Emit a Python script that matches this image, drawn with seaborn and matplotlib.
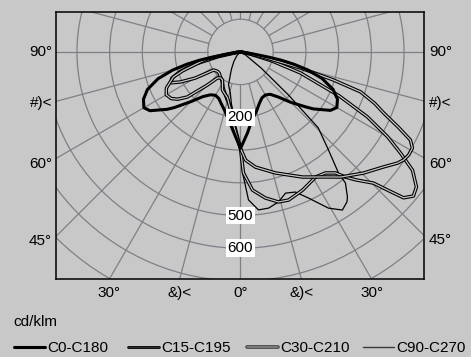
import numpy as np
import pandas as pd
import matplotlib
matplotlib.use("Agg")
import matplotlib.pyplot as plt
import seaborn as sns
from matplotlib.patches import Circle
from matplotlib.lines import Line2D
from matplotlib.legend_handler import HandlerTuple

# photometric data: gamma angle in degrees (0 = nadir,
# negative = left half plane) and luminous intensity in cd/klm
c0_gamma = [-180, -90, -83, -81, -79.5, -78.5, -77, -75, -72, -68, -64, -60, -57, -55, -52, -50,
            -45, -40, -35, -30, -25, -20, -15, -10, -5, 0,
            5, 10, 15, 20, 25, 30, 35, 40, 45, 50, 52, 55, 57, 60, 64, 68, 72, 75, 77,
            78.5, 79.5, 81, 83, 90, 180]
c0_int = [0, 0, 10, 40, 90, 130, 170, 215, 265, 307, 330, 341, 330, 310, 285, 265,
          215, 178, 160, 153, 157, 170, 186, 210, 245, 295,
          248, 208, 188, 168, 155, 152, 158, 180, 218, 262, 283, 308, 328, 340, 330, 305, 262, 213, 168,
          128, 88, 38, 10, 0, 0]

c15_gamma = [-90, -84, -80, -78, -76, -72, -69.5, -64, -60, -56, -53, -49.7, -45, -41.5, -37, -32.7,
             -25.3, -15.8, -10, -5, 0, 2.7, 7.4, 16.1, 26.4, 34.2, 38.7, 45.5, 51.2, 54.7, 56.5,
             58.5, 60.8, 62.6, 64.5, 66.9, 69, 71.6, 73.2, 75, 77, 80, 90]
c15_int = [0, 10, 50, 105, 126, 185, 219, 252, 262, 255, 240, 213, 143, 106, 100, 102,
           129, 146, 178, 230, 295, 331, 355, 385, 427, 462, 490, 528, 561, 588, 598,
           603, 602, 585, 535, 476, 440, 387, 297, 190, 80, 15, 0]

c30_gamma = [-90, -82, -78, -75, -72, -69, -66, -63.4, -60, -56, -50, -45, -38.7, -33, -25, -16,
             -10, -5, 0, 1.4, 5, 9.7, 14.2, 18, 24.2, 31, 35.1, 38.1, 40, 42, 45.4, 46.8, 48.2,
             50.2, 52.5, 55.5, 57.7, 60, 62.9, 66, 70.7, 74, 78, 90]
c30_int = [0, 12, 70, 140, 195, 225, 232, 205, 160, 99, 92, 92, 98, 104, 124, 150,
           172, 222, 295, 370, 424, 453, 473, 476, 463, 446, 452, 470, 499, 526, 571, 617, 669,
           688, 678, 638, 579, 520, 436, 330, 194, 100, 30, 0]

c90_gamma = [-90, -45, -35, -28, -25, -20, -14, -10, -6, -3, 0, 1, 3.1, 6.5, 10.2, 14.2, 17.7,
             21.4, 25, 29.4, 32.8, 35.4, 36.4, 38.7, 39, 41.9, 45.7, 48.1, 52, 59, 90]
c90_int = [0, 15, 35, 58, 71, 107, 129, 160, 200, 248, 295, 370, 453, 486, 485, 473, 453,
           460, 493, 548, 575, 562, 551, 513, 476, 403, 332, 197, 80, 18, 0]

labels = ["C0-C180", "C15-C195", "C30-C210", "C90-C270"]
ring_labels = [200, 500, 600]
side_angles = [90, 75, 60, 45]
side_texts = ["90°", "#)<", "60°", "45°"]
side_dy = [0, -2, -6, -5]
bottom_angles = [-30, -15, 0, 15, 30]
bottom_texts = ["30°", "&)<", "0°", "&)<", "30°"]

BG = "#c8c8c8"
GRID = "#7f7f88"

sns.set_theme(style="white")
plt.rcParams["font.family"] = ["Liberation Sans", "DejaVu Sans"]
plt.rcParams["font.size"] = 11
plt.rcParams["text.color"] = "black"


def polar_xy(gamma, inten):
    g = np.deg2rad(np.asarray(gamma, dtype=float))
    i = np.asarray(inten, dtype=float)
    return pd.DataFrame({"x": i * np.sin(g), "y": -i * np.cos(g)})


fig = plt.figure(figsize=(4.71, 3.57), dpi=100, facecolor=BG)
ax = fig.add_axes([56 / 471, 78 / 357, 368 / 471, 267 / 357])
ax.set_facecolor(BG)

# polar grid
for r in range(100, 1000, 100):
    ax.add_patch(Circle((0, 0), r, fill=False, ec=GRID, lw=0.9, zorder=1))
for a in np.deg2rad(np.arange(0, 360, 15)):
    ax.plot([100 * np.sin(a), 1100 * np.sin(a)], [-100 * np.cos(a), -1100 * np.cos(a)],
            color=GRID, lw=0.9, zorder=1)

curves = {
    "c0": polar_xy(c0_gamma, c0_int),
    "c15": polar_xy(c15_gamma, c15_int),
    "c30": polar_xy(c30_gamma, c30_int),
    "c90": polar_xy(c90_gamma, c90_int),
}

kw = dict(x="x", y="y", sort=False, estimator=None, ax=ax, legend=False)
sns.lineplot(data=curves["c90"], color="black", lw=0.9, zorder=3, **kw)
for key in ["c30", "c15"]:
    sns.lineplot(data=curves[key], color="black", lw=2.5, zorder=4, **kw)
    sns.lineplot(data=curves[key], color=BG, lw=0.9, zorder=4, **kw)
sns.lineplot(data=curves["c0"], color="black", lw=2.2, zorder=5, **kw)

XMIN, XMAX, YMIN, YMAX = -564, 561, -694, 122
ax.set_xlim(XMIN, XMAX)
ax.set_ylim(YMIN, YMAX)
ax.set_xticks([])
ax.set_yticks([])
ax.set_xlabel("")
ax.set_ylabel("")
for s in ax.spines.values():
    s.set_visible(True)
    s.set_color("black")
    s.set_linewidth(1.1)

for v in ring_labels:
    ax.text(0, -v, str(v), ha="center", va="center", fontsize=11, zorder=10,
            bbox=dict(fc="white", ec="none", pad=1.3))

# angle labels where the radial grid lines meet the frame
for ang, txt, dy in zip(side_angles, side_texts, side_dy):
    t = np.deg2rad(ang)
    ax.annotate(txt, xy=(XMIN, XMIN / np.tan(t)), xytext=(-4, dy), textcoords="offset pixels",
                ha="right", va="center", fontsize=11, annotation_clip=False)
    ax.annotate(txt, xy=(XMAX, -XMAX / np.tan(t)), xytext=(5, dy), textcoords="offset pixels",
                ha="left", va="center", fontsize=11, annotation_clip=False)
for ang, txt in zip(bottom_angles, bottom_texts):
    ax.annotate(txt, xy=(-YMIN * np.tan(np.deg2rad(ang)), YMIN), xytext=(0, -7),
                textcoords="offset pixels", ha="center", va="top", fontsize=11,
                annotation_clip=False)

fig.text(13 / 471, 35 / 357, "cd/klm", ha="left", va="center", fontsize=11)

# legend, one entry per slot along the bottom
handles = [
    Line2D([], [], color="black", lw=2.2),
    (Line2D([], [], color="black", lw=2.0), Line2D([], [], color="#404040", lw=0.5)),
    (Line2D([], [], color="#3c3c3c", lw=2.6), Line2D([], [], color="#8c8c8c", lw=1.1)),
    Line2D([], [], color="#3a3a3a", lw=1.0),
]
slot_x = [14, 128, 247, 363]
for h, lab, x0 in zip(handles, labels, slot_x):
    fig.legend([h], [lab], loc="center left", bbox_to_anchor=(x0 / 471, 8.5 / 357),
               frameon=False, fontsize=11, handlelength=2.0, handletextpad=0.2,
               borderaxespad=0, borderpad=0,
               handler_map={tuple: HandlerTuple(ndivide=1, pad=0)})

fig.savefig("out.png", dpi=100, facecolor=BG)
